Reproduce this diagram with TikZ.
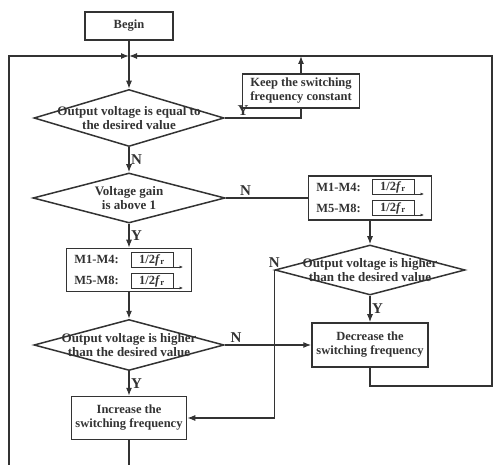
\documentclass[tikz,border=0pt]{standalone}
\usepackage{fontspec}
\setmainfont{Liberation Serif}
\usetikzlibrary{shapes.geometric,arrows.meta,positioning}

\tikzset{
  pulse/.pic={
    \draw[line width=0.6pt] (0,7) -- (0,-8) -- (42,-8) -- (42,7);
    \draw[line width=0.6pt, -{Latex[length=3.5pt,width=3pt]}] (0,7) -- (52,7);
    \node[font=\fontsize{12.5}{12.5}\selectfont\bfseries, inner sep=0pt] (lbl) at (21,0) {1/2\textit{f}\textsubscript{r}};
  }
}

\begin{document}
\begin{tikzpicture}[
    x=1pt, y=-1pt,
    color=black!80, line width=1.2pt,
    block/.style={rectangle, draw, line width=1.5pt, inner sep=2pt,
      align=center, font=\fontsize{12.5}{14}\selectfont\bfseries},
    decision/.style={diamond, draw, line width=1.5pt, inner sep=0pt,
      minimum width=190pt, minimum height=54pt},
    dtext/.style={align=center, inner sep=0pt, font=\fontsize{13}{14.5}\selectfont\bfseries},
    lab/.style={font=\fontsize{15}{15}\selectfont\bfseries, inner sep=1.5pt},
    arr/.style={-{Latex[length=8pt,width=6pt]}},
  ]
    \useasboundingbox (0,0) rectangle (493,465);

    % Nodes
    \node[block, minimum width=88pt, minimum height=28pt] (begin) at (129,26) {Begin};
    \coordinate (jn) at (129,56);
    \node[decision, minimum height=57pt, label={[dtext]center:{Output voltage is equal to\\the desired value}}] (chk1) at (129,118) {};
    \node[block, minimum width=117pt, minimum height=34pt] (keep) at (301,91) {Keep the switching\\frequency constant};
    \node[decision, minimum width=192pt, minimum height=50pt, label={[dtext]center:{Voltage gain\\is above 1}}] (gain) at (129,198) {};

    % PWM boxes
    \node[block, minimum width=123pt, minimum height=44pt] (pwmR) at (370,198) {};
    \node[dtext, align=left, anchor=west, font=\fontsize{12.5}{21}\selectfont\bfseries] (pwmRtxt) at ([xshift=8pt]pwmR.west) {M1-M4:\\M5-M8:};
    \node[block, minimum width=125pt, minimum height=43pt] (pwmL) at (129,270) {};
    \node[dtext, align=left, anchor=west, font=\fontsize{12.5}{21}\selectfont\bfseries] (pwmLtxt) at ([xshift=8pt]pwmL.west) {M1-M4:\\M5-M8:};
    \pic at (372,187) {pulse};
    \pic at (372,208) {pulse};
    \pic at (131,260) {pulse};
    \pic at (131,281) {pulse};

    % Frequency control
    \node[decision, minimum height=50pt, label={[dtext]center:{Output voltage is higher\\than the desired value}}] (chkR) at (370,270) {};
    \node[block, minimum width=116pt, minimum height=44pt] (dec) at (370,345) {Decrease the\\switching frequency};
    \node[decision, minimum height=51pt, label={[dtext]center:{Output voltage is higher\\than the desired value}}] (chkL) at (129,345) {};
    \node[block, minimum width=115pt, minimum height=43pt] (inc) at (129,418) {Increase the\\switching frequency};

    % Loop corners
    \coordinate (tl) at (9,56);
    \coordinate (bl) at (9,465);
    \coordinate (tr) at (492,56);
    \coordinate (br) at (492,386);
    \coordinate (kt) at (301,56);
    \coordinate (ib) at (129,465);

    % Arrows
    \draw[arr] (begin) -- (chk1);
    \draw[arr] (bl) -- (tl) -- (jn);
    \draw[arr] (dec.south) |- (br) -- (tr) -- (jn);
    \draw (chk1.east) -| node[lab, pos=0.12, above] {Y} (keep.south);
    \draw[arr] (keep) -- (kt);
    \draw[arr] (chk1) -- node[lab, right] {N} (gain);
    \draw (gain.east) -- node[lab, pos=0.24, above] {N} (pwmR.west);
    \draw[arr] (gain) -- node[lab, right] {Y} (pwmL);
    \draw[arr] (pwmL) -- (chkL);
    \draw[arr] (pwmR) -- (chkR);
    \draw[arr] (chkR) -- node[lab, right] {Y} (dec);
    \draw[arr] (chkR.west) |- node[lab, pos=0, above] {N} (inc.east);
    \draw[arr] (chkL.east) -- node[lab, pos=0.13, above] {N} (dec.west);
    \draw[arr] (chkL) -- node[lab, right] {Y} (inc);
    \draw (inc) -- (ib);
  \end{tikzpicture}
\end{document}
